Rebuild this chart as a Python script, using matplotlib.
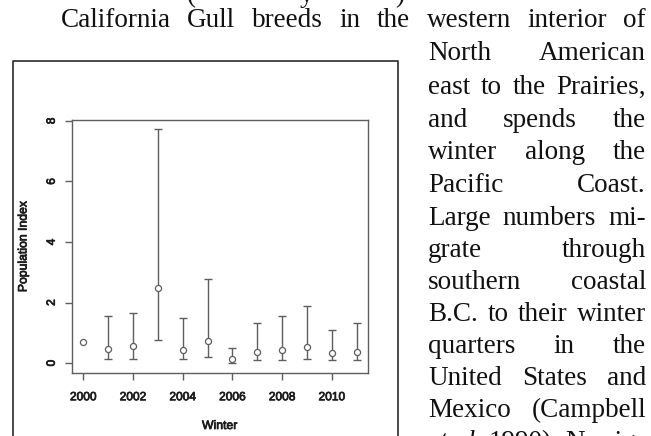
import matplotlib
matplotlib.use("Agg")
import matplotlib.pyplot as plt
import matplotlib.patheffects as pe
from matplotlib.lines import Line2D
import numpy as np

# ---- data: California Gull winter population index with confidence limits ----
years = np.arange(2000, 2012)
pop_index = np.array([0.69, 0.46, 0.56, 2.47, 0.44, 0.72, 0.12, 0.37, 0.43, 0.54, 0.32, 0.37])
ci_lower = np.array([np.nan, 0.12, 0.15, 0.76, 0.12, 0.19, 0.01, 0.09, 0.09, 0.15, 0.09, 0.09])
ci_upper = np.array([np.nan, 1.57, 1.67, 7.72, 1.48, 2.78, 0.50, 1.34, 1.57, 1.87, 1.10, 1.34])
x_ticks = [2000, 2002, 2004, 2006, 2008, 2010]
y_ticks = [0, 2, 4, 6, 8]

# ---- page text ----
heading_glyphs = [("(", 191), ("y", 306), (")", 400)]
first_line = "California Gull breeds in the western interior of"
column_lines = [
    "North American",
    "east to the Prairies,",
    "and spends the",
    "winter along the",
    "Pacific Coast.",
    "Large numbers mi-",
    "grate through",
    "southern coastal",
    "B.C. to their winter",
    "quarters in the",
    "United States and",
    "Mexico (Campbell",
    "et al. 1990). No sig-",
]
italic_words = {"et", "al."}

W, H = 651, 436
fig = plt.figure(figsize=(W / 100, H / 100), dpi=100)
fig.patch.set_facecolor("white")


def fx(x):
    return x / W


def fy(y):
    return 1 - y / H


GRAY = "#5e5e5e"
INK = "#1c1c1c"
SANS = "Liberation Sans"
thick = [pe.withStroke(linewidth=0.55, foreground=INK)]

# ---- chart ----
ax = fig.add_axes([fx(72.3), fy(372.5), (367.6 - 72.3) / W, (372.5 - 120.0) / H])
ok = ~np.isnan(ci_lower)
ax.errorbar(years[ok], pop_index[ok],
            yerr=[pop_index[ok] - ci_lower[ok], ci_upper[ok] - pop_index[ok]],
            fmt="none", ecolor=GRAY, elinewidth=1.0, capsize=2.9, capthick=1.0)
ax.plot(years, pop_index, "o", mfc="white", mec=GRAY, ms=4.4, mew=0.9, zorder=3)

ax.set_xlim(1999.56, 2011.44)
ax.set_ylim(-0.31, 8.03)
ax.set_xticks(x_ticks)
ax.set_yticks(y_ticks)
ax.set_xticklabels([str(v) for v in x_ticks], fontfamily=SANS, fontsize=8.6, color=INK, path_effects=thick)
ax.set_yticklabels([str(v) for v in y_ticks], fontfamily=SANS, fontsize=8.6, color=INK,
                   rotation=90, va="center", path_effects=thick)
ax.tick_params(axis="both", length=5, width=1.0, color=GRAY)
ax.tick_params(axis="x", pad=8.5)
ax.tick_params(axis="y", pad=5.5)
for s in ax.spines.values():
    s.set_color(GRAY)
    s.set_linewidth(1.0)

fig.text(fx(219.8), fy(426), "Winter", fontfamily=SANS, fontsize=8.8, color=INK,
         ha="center", va="center", path_effects=thick)
fig.text(fx(23.5), fy(246.3), "Population Index", fontfamily=SANS, fontsize=8.8, color=INK,
         ha="center", va="center", rotation=90, path_effects=thick)

# outer frame around the figure
fig.add_artist(Line2D([fx(12.7), fx(12.7), fx(397.7), fx(397.7)],
                      [fy(440), fy(60.7), fy(60.7), fy(440)],
                      transform=fig.transFigure, color="#2b2b2b", lw=1.2))

# ---- justified body text ----
SERIF = "Liberation Serif"
FS = 19.5
renderer = fig.canvas.get_renderer()


def set_line(text, x0, x1, baseline):
    words = text.split(" ")
    arts = []
    for w in words:
        style = "italic" if w in italic_words else "normal"
        t = fig.text(0, fy(baseline), w, fontfamily=SERIF, fontsize=FS, color="#111111",
                     fontstyle=style, ha="left", va="baseline")
        arts.append(t)
    widths = [a.get_window_extent(renderer).width for a in arts]
    gap = (x1 - x0 - sum(widths)) / max(len(words) - 1, 1)
    x = x0
    for a, wd in zip(arts, widths):
        a.set_x(fx(x))
        x += wd + gap


for g, gx in heading_glyphs:
    fig.text(fx(gx), fy(2.0), g, fontfamily=SERIF, fontsize=FS, color="#111111",
             ha="center", va="baseline")

set_line(first_line, 60.5, 646.0, 27.0)
col_baselines = [60, 94, 127, 159, 192, 225, 257, 289, 321, 353, 385, 417, 449]
for line, yb in zip(column_lines, col_baselines):
    set_line(line, 428.0, 646.0, yb)

fig.savefig("out.png", dpi=100, facecolor="white")
